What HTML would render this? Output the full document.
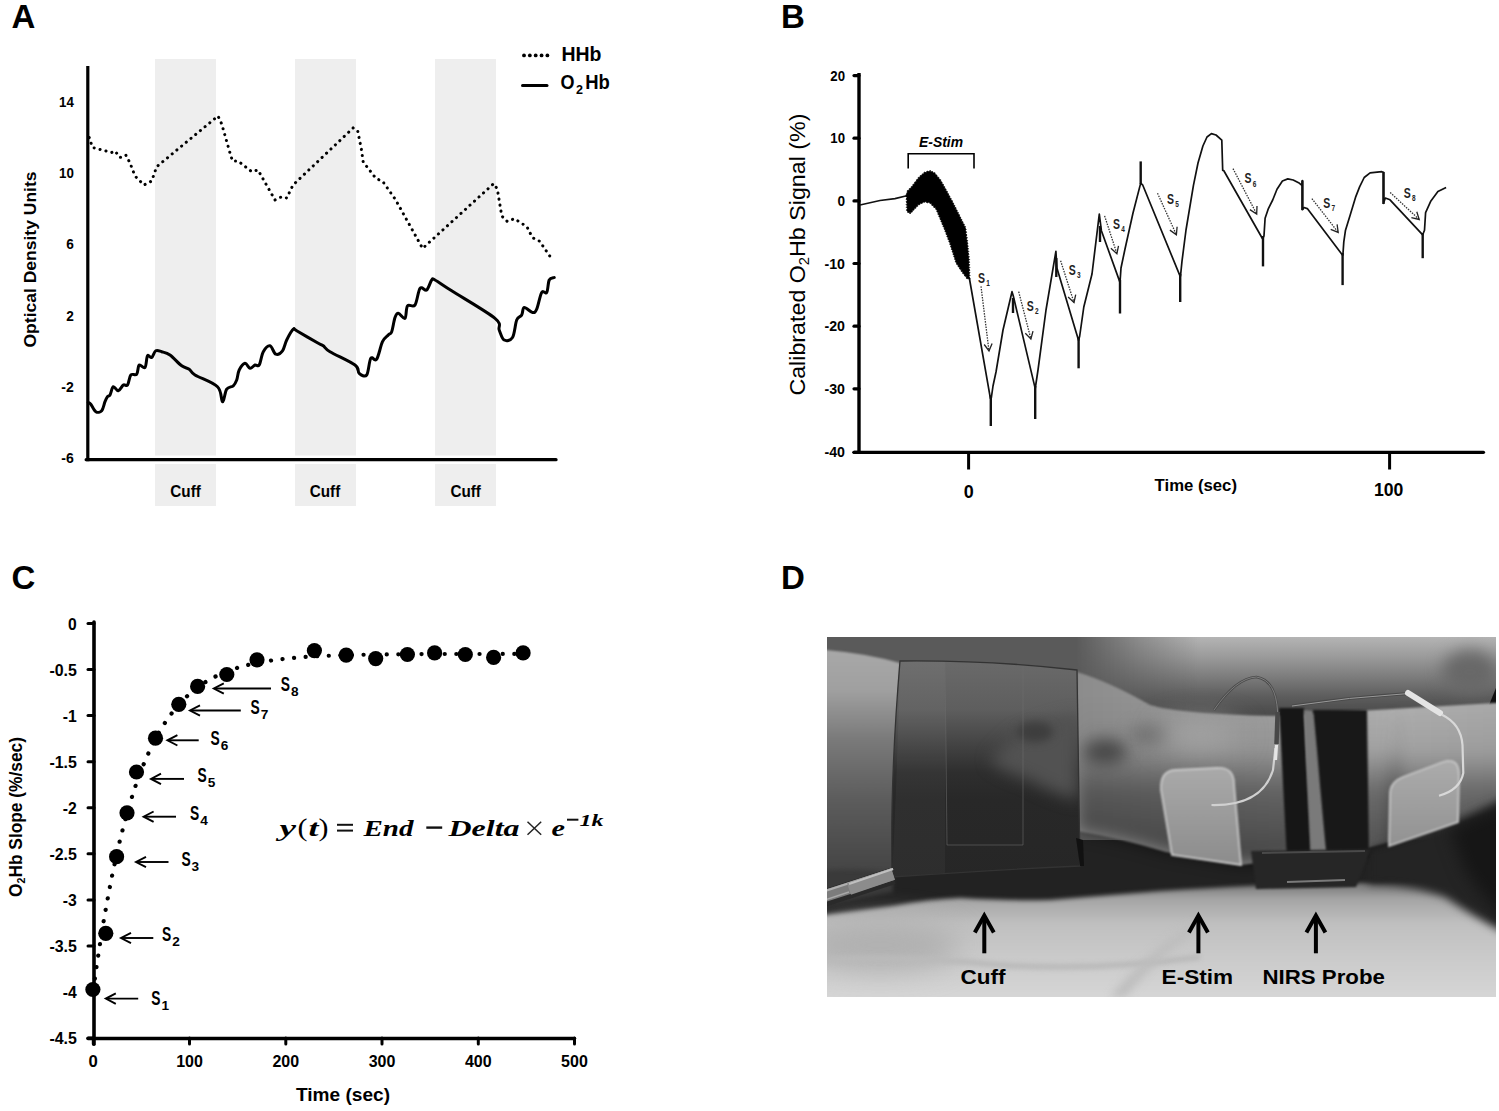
<!DOCTYPE html>
<html><head><meta charset="utf-8">
<style>
html,body{margin:0;padding:0;background:#fff;width:1499px;height:1111px;overflow:hidden}
svg{position:absolute;left:0;top:0;display:block}
text{font-family:"Liberation Sans", sans-serif}
</style></head><body>
<svg width="1499" height="1111" viewBox="0 0 1499 1111">
<rect x="0" y="0" width="1499" height="1111" fill="#fff"/>

<text x="11.5" y="28" font-size="33" font-weight="bold" fill="#000">A</text>
<text x="781" y="28" font-size="33" font-weight="bold" fill="#000">B</text>
<text x="11.5" y="589" font-size="33" font-weight="bold" fill="#000">C</text>
<text x="781" y="589" font-size="33" font-weight="bold" fill="#000">D</text>
<rect x="155" y="59" width="61" height="396.5" fill="#eeeeee"/>
<rect x="155" y="464" width="61" height="42" fill="#eeeeee"/>
<rect x="295" y="59" width="61" height="396.5" fill="#eeeeee"/>
<rect x="295" y="464" width="61" height="42" fill="#eeeeee"/>
<rect x="435" y="59" width="61" height="396.5" fill="#eeeeee"/>
<rect x="435" y="464" width="61" height="42" fill="#eeeeee"/>
<line x1="87.8" y1="66" x2="87.8" y2="461.3" stroke="#000" stroke-width="3.2"/>
<line x1="86.2" y1="459.7" x2="556" y2="459.7" stroke="#000" stroke-width="3.3" stroke-linecap="round"/>
<text x="59.0" y="107.0" font-size="14" font-weight="bold" textLength="14.8" lengthAdjust="spacingAndGlyphs">14</text>
<text x="59.0" y="178.2" font-size="14" font-weight="bold" textLength="14.8" lengthAdjust="spacingAndGlyphs">10</text>
<text x="66.2" y="249.4" font-size="14" font-weight="bold" textLength="7.6" lengthAdjust="spacingAndGlyphs">6</text>
<text x="66.2" y="320.6" font-size="14" font-weight="bold" textLength="7.6" lengthAdjust="spacingAndGlyphs">2</text>
<text x="61.3" y="391.8" font-size="14" font-weight="bold" textLength="12.5" lengthAdjust="spacingAndGlyphs">-2</text>
<text x="61.3" y="462.9" font-size="14" font-weight="bold" textLength="12.5" lengthAdjust="spacingAndGlyphs">-6</text>
<text transform="translate(36,259.5) rotate(-90)" font-size="16" font-weight="bold" text-anchor="middle" textLength="176" lengthAdjust="spacingAndGlyphs">Optical Density Units</text>
<text x="185.6" y="497" font-size="16.5" font-weight="bold" text-anchor="middle" textLength="30.5" lengthAdjust="spacingAndGlyphs">Cuff</text>
<text x="325" y="497" font-size="16.5" font-weight="bold" text-anchor="middle" textLength="30.5" lengthAdjust="spacingAndGlyphs">Cuff</text>
<text x="465.7" y="497" font-size="16.5" font-weight="bold" text-anchor="middle" textLength="30.5" lengthAdjust="spacingAndGlyphs">Cuff</text>
<circle cx="524.00" cy="55.4" r="1.9" fill="#000"/>
<circle cx="529.85" cy="55.4" r="1.9" fill="#000"/>
<circle cx="535.70" cy="55.4" r="1.9" fill="#000"/>
<circle cx="541.55" cy="55.4" r="1.9" fill="#000"/>
<circle cx="547.40" cy="55.4" r="1.9" fill="#000"/>
<line x1="522.5" y1="85.5" x2="547" y2="85.5" stroke="#000" stroke-width="3" stroke-linecap="round"/>
<text x="561.4" y="61.3" font-size="19.5" font-weight="bold" textLength="40" lengthAdjust="spacingAndGlyphs">HHb</text>
<text x="560.6" y="89" font-size="19.5" font-weight="bold" textLength="14" lengthAdjust="spacingAndGlyphs">O</text>
<text x="576" y="94" font-size="12" font-weight="bold" textLength="7" lengthAdjust="spacingAndGlyphs">2</text>
<text x="585.2" y="89" font-size="19.5" font-weight="bold" textLength="24.6" lengthAdjust="spacingAndGlyphs">Hb</text>
<polyline points="89.2,137.5 92.5,147.5 111.7,152.5 115.0,151.0 120.0,157.5 125.8,155.0 130.0,163.0 135.0,176.0 144.0,185.0 151.7,181.0 156.7,166.7 218.0,116.0 221.7,124.0 230.0,153.0 232.5,161.0 238.0,161.0 251.7,171.7 258.0,170.0 275.0,200.0 281.7,196.7 286.7,198.0 293.0,185.0 353.3,127.8 357.8,131.4 361.4,149.4 363.2,162.0 375.8,178.2 383.0,181.8 395.6,199.8 422.6,248.4 493.7,183.6 497.3,189.0 501.8,216.0 507.2,221.4 514.4,218.7 527.0,226.8 532.4,237.6 539.6,241.2 551.3,258.3" fill="none" stroke="#000" stroke-width="3" stroke-linecap="round" stroke-linejoin="round" stroke-dasharray="0.1,6"/>
<path d="M88.3,402.5 C88.7,402.8 89.5,402.7 90.8,404.2 C92.0,405.7 94.0,410.6 95.8,411.7 C97.6,412.8 100.2,412.5 101.7,410.8 C103.2,409.1 104.0,404.1 105.0,401.7 C106.0,399.3 106.7,397.8 107.5,396.7 C108.3,395.6 109.0,396.7 110.0,395.0 C111.0,393.3 111.9,387.4 113.3,386.7 C114.7,386.0 116.6,391.1 118.3,390.8 C120.0,390.5 121.8,386.0 123.3,385.0 C124.8,384.0 126.2,386.7 127.5,385.0 C128.8,383.3 129.3,376.8 130.8,375.0 C132.3,373.2 135.3,375.9 136.7,374.2 C138.1,372.5 137.8,366.1 139.2,365.0 C140.6,363.9 143.6,369.0 145.0,367.5 C146.4,366.0 146.4,357.5 147.5,355.8 C148.6,354.1 150.3,358.3 151.7,357.5 C153.1,356.7 154.1,351.8 155.8,350.8 C157.5,349.8 159.3,351.0 161.7,351.7 C164.1,352.4 166.7,352.6 170.0,355.0 C173.3,357.4 178.5,363.4 181.7,365.8 C184.9,368.2 187.0,367.7 189.2,369.2 C191.4,370.7 190.3,372.1 195.0,375.0 C199.7,377.9 212.9,382.2 217.5,386.7 C222.1,391.1 221.0,401.3 222.5,401.7 C224.0,402.1 224.9,391.8 226.7,389.2 C228.5,386.6 231.6,387.3 233.3,385.8 C235.0,384.3 235.7,382.6 236.7,380.0 C237.7,377.4 237.8,372.8 239.2,370.0 C240.6,367.2 243.2,363.6 245.0,363.3 C246.8,363.0 248.3,368.0 250.0,368.3 C251.7,368.6 253.5,365.6 255.0,365.0 C256.5,364.4 257.8,367.2 259.2,365.0 C260.6,362.8 261.5,354.9 263.3,351.7 C265.1,348.5 267.9,345.4 270.0,345.8 C272.1,346.2 273.7,353.4 275.8,354.2 C277.9,355.0 280.7,353.2 282.5,350.8 C284.3,348.4 284.9,343.6 286.7,340.0 C288.5,336.4 291.6,330.7 293.3,329.2 C295.0,327.7 292.5,328.4 296.7,330.8 C300.9,333.2 313.9,340.8 318.3,343.3 C322.7,345.8 321.4,344.4 323.3,345.8 C325.2,347.2 324.7,348.5 330.0,351.7 C335.3,354.9 350.1,361.4 355.0,365.0 C359.9,368.6 357.2,371.6 359.2,373.3 C361.1,375.0 364.8,377.5 366.7,375.0 C368.6,372.5 369.1,360.9 370.8,358.3 C372.5,355.7 374.8,362.0 376.7,359.2 C378.6,356.4 380.6,345.7 382.5,341.7 C384.4,337.7 386.8,336.7 388.3,335.0 C389.8,333.3 390.6,334.6 391.7,331.7 C392.8,328.8 393.9,320.6 395.0,317.5 C396.1,314.4 396.6,313.2 398.3,313.3 C400.0,313.4 403.5,319.6 405.0,318.3 C406.5,317.1 405.8,308.0 407.5,305.8 C409.2,303.6 412.9,307.9 415.0,305.0 C417.1,302.1 418.1,290.8 420.0,288.3 C421.9,285.8 424.8,291.4 426.7,290.0 C428.6,288.6 430.3,281.7 431.7,280.0 C433.1,278.3 431.7,278.2 435.0,280.0 C438.3,281.8 441.7,284.4 451.7,290.8 C461.7,297.2 487.1,311.8 495.0,318.3 C502.9,324.8 497.7,326.4 499.2,330.0 C500.7,333.6 502.0,338.8 504.2,340.0 C506.4,341.2 510.4,340.8 512.5,337.5 C514.6,334.2 515.2,323.8 516.7,320.0 C518.2,316.2 520.5,317.1 521.7,315.0 C523.0,312.9 522.4,307.9 524.2,307.5 C526.0,307.1 530.4,312.2 532.5,312.5 C534.6,312.8 535.2,312.5 536.7,309.2 C538.2,305.9 540.0,295.3 541.7,292.5 C543.4,289.7 545.5,294.6 546.7,292.5 C548.0,290.4 548.0,282.5 549.2,280.0 C550.5,277.5 553.4,277.9 554.2,277.5" fill="none" stroke="#000" stroke-width="3" stroke-linejoin="round" stroke-linecap="round"/>
<line x1="859" y1="73" x2="859" y2="452" stroke="#000" stroke-width="3.4"/>
<line x1="854" y1="452.3" x2="1483.5" y2="452.3" stroke="#000" stroke-width="3.2" stroke-linecap="round"/>
<line x1="854" y1="75.6" x2="859" y2="75.6" stroke="#000" stroke-width="3.2" stroke-linecap="round"/>
<text x="830.3" y="80.7" font-size="14.5" font-weight="bold" textLength="14.7" lengthAdjust="spacingAndGlyphs">20</text>
<line x1="854" y1="138.2" x2="859" y2="138.2" stroke="#000" stroke-width="3.2" stroke-linecap="round"/>
<text x="830.3" y="143.3" font-size="14.5" font-weight="bold" textLength="14.7" lengthAdjust="spacingAndGlyphs">10</text>
<line x1="854" y1="200.9" x2="859" y2="200.9" stroke="#000" stroke-width="3.2" stroke-linecap="round"/>
<text x="837.4" y="206.0" font-size="14.5" font-weight="bold" textLength="7.6" lengthAdjust="spacingAndGlyphs">0</text>
<line x1="854" y1="263.5" x2="859" y2="263.5" stroke="#000" stroke-width="3.2" stroke-linecap="round"/>
<text x="824.5" y="268.6" font-size="14.5" font-weight="bold" textLength="20.5" lengthAdjust="spacingAndGlyphs">-10</text>
<line x1="854" y1="326.2" x2="859" y2="326.2" stroke="#000" stroke-width="3.2" stroke-linecap="round"/>
<text x="824.5" y="331.3" font-size="14.5" font-weight="bold" textLength="20.5" lengthAdjust="spacingAndGlyphs">-20</text>
<line x1="854" y1="388.8" x2="859" y2="388.8" stroke="#000" stroke-width="3.2" stroke-linecap="round"/>
<text x="824.5" y="393.9" font-size="14.5" font-weight="bold" textLength="20.5" lengthAdjust="spacingAndGlyphs">-30</text>
<line x1="854" y1="452.3" x2="859" y2="452.3" stroke="#000" stroke-width="3.2" stroke-linecap="round"/>
<text x="824.5" y="457.4" font-size="14.5" font-weight="bold" textLength="20.5" lengthAdjust="spacingAndGlyphs">-40</text>
<line x1="968.6" y1="451" x2="968.6" y2="469.5" stroke="#000" stroke-width="3"/>
<line x1="1389.6" y1="451" x2="1389.6" y2="469.5" stroke="#000" stroke-width="3"/>
<text x="968.7" y="497.7" font-size="18" font-weight="bold" text-anchor="middle" textLength="10" lengthAdjust="spacingAndGlyphs">0</text>
<text x="1388.7" y="496.2" font-size="17.5" font-weight="bold" text-anchor="middle" textLength="29.4" lengthAdjust="spacingAndGlyphs">100</text>
<text x="1154.6" y="491" font-size="16.5" font-weight="bold" textLength="82.4" lengthAdjust="spacingAndGlyphs">Time (sec)</text>
<text transform="translate(804.5,254.6) rotate(-90)" font-size="22" text-anchor="middle" textLength="282" lengthAdjust="spacingAndGlyphs">Calibrated O<tspan font-size="14" dy="4">2</tspan><tspan dy="-4">Hb Signal (%)</tspan></text>
<polyline points="908.2,168.5 908.2,153.8 974,153.8 974,168.5" fill="none" stroke="#000" stroke-width="1.6"/>
<text x="919" y="146.5" font-size="14" font-weight="bold" font-style="italic" textLength="44" lengthAdjust="spacingAndGlyphs">E-Stim</text>
<polyline points="860,205 870,202.8 880,200.5 895,198.6 906.7,195.7" fill="none" stroke="#111" stroke-width="1.6"/>
<polygon points="907.3,192.2 907.4,190.5 909.2,190.4 909.3,188.6 911.1,188.5 911.2,186.7 913.0,186.3 912.9,184.4 914.7,184.0 914.7,182.1 916.5,181.6 916.4,179.8 918.2,179.3 918.2,177.4 920.0,177.4 920.2,175.6 922.0,175.6 922.2,173.9 923.9,173.9 924.2,172.0 926.0,172.7 927.1,171.1 928.9,171.8 930.2,170.3 930.9,171.9 932.6,171.5 933.2,173.1 935.0,172.7 935.1,174.6 936.9,175.1 937.0,177.0 938.9,177.4 938.9,179.3 940.8,179.8 940.5,181.5 942.1,182.1 941.8,183.8 943.5,184.4 943.1,186.2 944.8,186.8 944.4,188.5 946.1,189.1 945.7,190.8 947.4,191.4 947.0,193.2 948.6,193.8 948.3,195.5 949.9,196.1 949.5,197.9 951.2,198.5 950.8,200.2 952.5,200.8 952.1,202.6 953.7,203.2 953.3,204.9 954.9,205.5 954.4,207.2 956.1,207.8 955.6,209.5 957.2,210.2 956.8,211.9 958.4,212.5 957.9,214.2 959.6,214.8 959.1,216.5 960.7,217.2 960.3,218.9 961.9,219.5 961.5,221.2 963.1,221.9 962.6,223.6 964.3,224.2 963.8,225.9 965.5,226.6 964.9,228.0 966.2,229.3 965.3,230.8 966.6,232.1 965.6,233.6 967.0,234.9 966.0,236.4 967.3,237.7 966.3,239.2 967.7,240.5 966.7,242.0 968.0,243.2 967.0,244.7 968.3,245.9 967.2,247.4 968.5,248.6 967.5,250.1 968.8,251.4 967.8,252.8 969.0,254.1 968.0,255.5 969.3,256.8 968.3,258.2 969.6,259.5 968.4,260.9 969.6,262.1 968.5,263.5 969.7,264.8 968.6,266.2 969.8,267.5 968.7,268.8 969.9,270.1 968.8,271.5 970.0,272.8 968.8,274.1 970.0,275.4 968.9,276.8 970.1,278.1 969.9,279.4 968.3,278.8 966.4,278.4 966.4,276.5 964.6,276.0 964.5,274.1 962.7,273.6 962.9,271.8 961.1,271.3 961.3,269.5 959.6,269.0 959.8,267.2 958.0,266.6 958.2,264.8 956.5,264.3 956.8,262.7 955.2,261.8 956.0,260.2 954.5,259.3 955.2,257.7 953.7,256.8 954.4,255.2 952.9,254.4 953.6,252.8 952.1,251.9 952.8,250.3 951.3,249.4 952.0,247.8 950.5,246.9 951.3,245.3 949.7,244.4 950.4,242.7 948.8,241.8 949.4,240.2 947.8,239.3 948.4,237.6 946.8,236.7 947.5,235.1 945.9,234.2 946.5,232.5 944.9,231.6 945.5,230.0 944.0,229.1 944.5,227.4 942.9,226.6 943.5,224.9 941.9,224.2 942.5,222.5 940.9,221.7 941.4,220.0 939.9,219.2 940.4,217.5 938.8,216.7 939.4,215.0 937.8,214.3 938.4,212.6 936.8,211.8 937.3,210.1 935.8,209.4 935.7,207.6 933.8,207.4 933.7,205.6 931.9,205.5 931.7,203.6 930.0,203.6 928.8,202.1 927.1,203.0 925.9,201.5 924.4,202.3 922.7,201.9 922.1,203.5 920.4,203.1 919.7,204.7 917.7,204.5 917.7,206.3 915.9,206.4 915.9,208.2 914.1,208.3 914.0,210.1 912.3,210.3 912.2,212.1 910.5,212.2 910.1,214.0 909.5,212.3 907.7,212.5 907.6,211.5 906.4,210.1 907.5,208.7 906.3,207.4 907.4,206.0 906.2,204.6 907.3,203.2 906.1,201.9 907.2,200.5 906.0,199.1 907.1,197.7 905.9,196.4 906.1,195.0" fill="#000" stroke="#000" stroke-width="0.8"/>
<polyline points="969.5,279.0 990.4,398.4 991.3,398.0 993.0,386.0 996.0,372.0 1003.0,330.0 1012.0,291.7 1013.3,296.0 1035.0,387.6 1035.3,388.0 1038.0,370.0 1046.0,310.0 1055.9,251.4 1056.9,268.0 1078.6,340.4 1079.7,336.0 1083.8,307.0 1092.0,274.0 1099.3,214.1 1101.4,230.7 1120.0,282.4 1121.0,268.0 1125.0,249.0 1133.0,213.0 1140.7,183.1 1142.8,185.2 1180.2,276.4 1180.5,276.0 1182.0,261.2 1186.0,230.0 1193.4,185.6 1198.0,163.0 1202.9,146.0 1207.0,137.0 1211.4,133.6 1216.0,135.0 1221.8,140.2 1222.7,170.5 1223.7,170.5 1262.4,238.5 1263.5,237.0 1264.0,235.6 1265.1,218.3 1268.4,208.6 1272.7,200.0 1277.0,189.2 1282.4,181.0 1287.8,178.9 1293.2,180.0 1298.6,182.7 1301.9,185.4 1302.4,180.5 1302.4,209.7 1304.0,207.5 1307.3,208.6 1342.6,255.3 1342.9,255.0 1343.8,241.9 1345.5,230.2 1350.2,215.0 1355.5,197.4 1359.6,186.9 1364.2,177.5 1370.1,172.9 1381.8,171.7 1383.5,172.3 1383.5,203.3 1385.3,198.0 1390.0,199.8 1405.2,216.1 1422.7,234.9 1423.0,234.0 1424.5,230.2 1425.6,212.6 1430.9,200.9 1437.9,191.6 1446.1,187.5" fill="none" stroke="#111" stroke-width="1.7" stroke-linejoin="round"/>
<line x1="990.8" y1="396" x2="990.8" y2="426" stroke="#111" stroke-width="2.4"/>
<line x1="1013" y1="298" x2="1013" y2="313" stroke="#111" stroke-width="2.4"/>
<line x1="1035.2" y1="386" x2="1035.2" y2="419" stroke="#111" stroke-width="2.4"/>
<line x1="1056.3" y1="258" x2="1056.3" y2="277" stroke="#111" stroke-width="2.4"/>
<line x1="1078.6" y1="338" x2="1078.6" y2="368.3" stroke="#111" stroke-width="2.4"/>
<line x1="1100" y1="226" x2="1100" y2="242" stroke="#111" stroke-width="2.4"/>
<line x1="1120" y1="280" x2="1120" y2="313.5" stroke="#111" stroke-width="2.4"/>
<line x1="1140.7" y1="161.4" x2="1140.7" y2="184" stroke="#111" stroke-width="2.4"/>
<line x1="1180.2" y1="274" x2="1180.2" y2="302" stroke="#111" stroke-width="2.4"/>
<line x1="1263" y1="236" x2="1263" y2="266.4" stroke="#111" stroke-width="2.4"/>
<line x1="1302.4" y1="180.5" x2="1302.4" y2="210" stroke="#111" stroke-width="2.4"/>
<line x1="1342.6" y1="253" x2="1342.6" y2="285.1" stroke="#111" stroke-width="2.4"/>
<line x1="1383.5" y1="172" x2="1383.5" y2="204" stroke="#111" stroke-width="2.4"/>
<line x1="1422.7" y1="233" x2="1422.7" y2="258.2" stroke="#111" stroke-width="2.4"/>
<line x1="981" y1="286.3" x2="989" y2="351" stroke="#333" stroke-width="1.3" stroke-dasharray="1.5,1.2"/>
<polyline points="992.1,343.6 989,351 984.2,344.5" fill="none" stroke="#222" stroke-width="1.3"/>
<text x="978" y="282.8" font-size="14" font-weight="bold" fill="#222" textLength="7" lengthAdjust="spacingAndGlyphs">S</text>
<text x="986.2" y="286" font-size="8.5" font-weight="bold" fill="#222" textLength="3.6" lengthAdjust="spacingAndGlyphs">1</text>
<line x1="1018.7" y1="291.7" x2="1030.9" y2="339" stroke="#333" stroke-width="1.3" stroke-dasharray="1.5,1.2"/>
<polyline points="1033.0,331.2 1030.9,339 1025.3,333.2" fill="none" stroke="#222" stroke-width="1.3"/>
<text x="1026.8" y="310.8" font-size="14" font-weight="bold" fill="#222" textLength="7" lengthAdjust="spacingAndGlyphs">S</text>
<text x="1035.0" y="314" font-size="8.5" font-weight="bold" fill="#222" textLength="3.6" lengthAdjust="spacingAndGlyphs">2</text>
<line x1="1060.6" y1="260.7" x2="1074" y2="302.5" stroke="#333" stroke-width="1.3" stroke-dasharray="1.5,1.2"/>
<polyline points="1075.7,294.6 1074,302.5 1068.1,297.1" fill="none" stroke="#222" stroke-width="1.3"/>
<text x="1068.7" y="274.8" font-size="14" font-weight="bold" fill="#222" textLength="7" lengthAdjust="spacingAndGlyphs">S</text>
<text x="1076.9" y="278" font-size="8.5" font-weight="bold" fill="#222" textLength="3.6" lengthAdjust="spacingAndGlyphs">3</text>
<line x1="1104.6" y1="215.9" x2="1116.9" y2="253.7" stroke="#333" stroke-width="1.3" stroke-dasharray="1.5,1.2"/>
<polyline points="1118.5,245.8 1116.9,253.7 1110.9,248.3" fill="none" stroke="#222" stroke-width="1.3"/>
<text x="1113" y="228.8" font-size="14" font-weight="bold" fill="#222" textLength="7" lengthAdjust="spacingAndGlyphs">S</text>
<text x="1121.2" y="232" font-size="8.5" font-weight="bold" fill="#222" textLength="3.6" lengthAdjust="spacingAndGlyphs">4</text>
<line x1="1157.5" y1="193.2" x2="1176.4" y2="234.8" stroke="#333" stroke-width="1.3" stroke-dasharray="1.5,1.2"/>
<polyline points="1177.1,226.8 1176.4,234.8 1169.9,230.1" fill="none" stroke="#222" stroke-width="1.3"/>
<text x="1167" y="204.20000000000002" font-size="14" font-weight="bold" fill="#222" textLength="7" lengthAdjust="spacingAndGlyphs">S</text>
<text x="1175.2" y="207.4" font-size="8.5" font-weight="bold" fill="#222" textLength="3.6" lengthAdjust="spacingAndGlyphs">5</text>
<line x1="1233" y1="168.6" x2="1256.7" y2="214" stroke="#333" stroke-width="1.3" stroke-dasharray="1.5,1.2"/>
<polyline points="1257.0,205.9 1256.7,214 1249.9,209.6" fill="none" stroke="#222" stroke-width="1.3"/>
<text x="1244.5" y="183.4" font-size="14" font-weight="bold" fill="#222" textLength="7" lengthAdjust="spacingAndGlyphs">S</text>
<text x="1252.7" y="186.6" font-size="8.5" font-weight="bold" fill="#222" textLength="3.6" lengthAdjust="spacingAndGlyphs">6</text>
<line x1="1311.9" y1="198.6" x2="1338.2" y2="232.4" stroke="#333" stroke-width="1.3" stroke-dasharray="1.5,1.2"/>
<polyline points="1337.1,224.4 1338.2,232.4 1330.7,229.3" fill="none" stroke="#222" stroke-width="1.3"/>
<text x="1323.3" y="207.8" font-size="14" font-weight="bold" fill="#222" textLength="7" lengthAdjust="spacingAndGlyphs">S</text>
<text x="1331.5" y="211" font-size="8.5" font-weight="bold" fill="#222" textLength="3.6" lengthAdjust="spacingAndGlyphs">7</text>
<line x1="1390.2" y1="192.5" x2="1419.2" y2="219.5" stroke="#333" stroke-width="1.3" stroke-dasharray="1.5,1.2"/>
<polyline points="1416.8,211.8 1419.2,219.5 1411.4,217.7" fill="none" stroke="#222" stroke-width="1.3"/>
<text x="1403.7" y="197.8" font-size="14" font-weight="bold" fill="#222" textLength="7" lengthAdjust="spacingAndGlyphs">S</text>
<text x="1411.9" y="201" font-size="8.5" font-weight="bold" fill="#222" textLength="3.6" lengthAdjust="spacingAndGlyphs">8</text>
<line x1="94" y1="622" x2="94" y2="1044.3" stroke="#000" stroke-width="3.6" stroke-linecap="round"/>
<line x1="88" y1="1038.5" x2="574.5" y2="1038.5" stroke="#000" stroke-width="3.6" stroke-linecap="round"/>
<line x1="88" y1="623.5" x2="94" y2="623.5" stroke="#000" stroke-width="3" stroke-linecap="round"/>
<text x="68.1" y="629.5" font-size="16.5" font-weight="bold" textLength="8.7" lengthAdjust="spacingAndGlyphs">0</text>
<line x1="88" y1="669.6" x2="94" y2="669.6" stroke="#000" stroke-width="3" stroke-linecap="round"/>
<text x="49.4" y="675.6" font-size="16.5" font-weight="bold" textLength="27.4" lengthAdjust="spacingAndGlyphs">-0.5</text>
<line x1="88" y1="715.6" x2="94" y2="715.6" stroke="#000" stroke-width="3" stroke-linecap="round"/>
<text x="62.8" y="721.6" font-size="16.5" font-weight="bold" textLength="14" lengthAdjust="spacingAndGlyphs">-1</text>
<line x1="88" y1="761.7" x2="94" y2="761.7" stroke="#000" stroke-width="3" stroke-linecap="round"/>
<text x="49.4" y="767.7" font-size="16.5" font-weight="bold" textLength="27.4" lengthAdjust="spacingAndGlyphs">-1.5</text>
<line x1="88" y1="807.7" x2="94" y2="807.7" stroke="#000" stroke-width="3" stroke-linecap="round"/>
<text x="62.8" y="813.7" font-size="16.5" font-weight="bold" textLength="14" lengthAdjust="spacingAndGlyphs">-2</text>
<line x1="88" y1="853.8" x2="94" y2="853.8" stroke="#000" stroke-width="3" stroke-linecap="round"/>
<text x="49.4" y="859.8" font-size="16.5" font-weight="bold" textLength="27.4" lengthAdjust="spacingAndGlyphs">-2.5</text>
<line x1="88" y1="899.9" x2="94" y2="899.9" stroke="#000" stroke-width="3" stroke-linecap="round"/>
<text x="62.8" y="905.9" font-size="16.5" font-weight="bold" textLength="14" lengthAdjust="spacingAndGlyphs">-3</text>
<line x1="88" y1="945.9" x2="94" y2="945.9" stroke="#000" stroke-width="3" stroke-linecap="round"/>
<text x="49.4" y="951.9" font-size="16.5" font-weight="bold" textLength="27.4" lengthAdjust="spacingAndGlyphs">-3.5</text>
<line x1="88" y1="992.0" x2="94" y2="992.0" stroke="#000" stroke-width="3" stroke-linecap="round"/>
<text x="62.8" y="998.0" font-size="16.5" font-weight="bold" textLength="14" lengthAdjust="spacingAndGlyphs">-4</text>
<line x1="88" y1="1038.0" x2="94" y2="1038.0" stroke="#000" stroke-width="3" stroke-linecap="round"/>
<text x="49.4" y="1044.0" font-size="16.5" font-weight="bold" textLength="27.4" lengthAdjust="spacingAndGlyphs">-4.5</text>
<line x1="93.3" y1="1038" x2="93.3" y2="1044" stroke="#000" stroke-width="3" stroke-linecap="round"/>
<text x="88.6" y="1067.4" font-size="16.2" font-weight="bold" textLength="9.3" lengthAdjust="spacingAndGlyphs">0</text>
<line x1="189.5" y1="1038" x2="189.5" y2="1044" stroke="#000" stroke-width="3" stroke-linecap="round"/>
<text x="176.2" y="1067.4" font-size="16.2" font-weight="bold" textLength="26.7" lengthAdjust="spacingAndGlyphs">100</text>
<line x1="285.8" y1="1038" x2="285.8" y2="1044" stroke="#000" stroke-width="3" stroke-linecap="round"/>
<text x="272.4" y="1067.4" font-size="16.2" font-weight="bold" textLength="26.7" lengthAdjust="spacingAndGlyphs">200</text>
<line x1="382.0" y1="1038" x2="382.0" y2="1044" stroke="#000" stroke-width="3" stroke-linecap="round"/>
<text x="368.7" y="1067.4" font-size="16.2" font-weight="bold" textLength="26.7" lengthAdjust="spacingAndGlyphs">300</text>
<line x1="478.3" y1="1038" x2="478.3" y2="1044" stroke="#000" stroke-width="3" stroke-linecap="round"/>
<text x="464.9" y="1067.4" font-size="16.2" font-weight="bold" textLength="26.7" lengthAdjust="spacingAndGlyphs">400</text>
<line x1="574.5" y1="1038" x2="574.5" y2="1044" stroke="#000" stroke-width="3" stroke-linecap="round"/>
<text x="561.1" y="1067.4" font-size="16.2" font-weight="bold" textLength="26.7" lengthAdjust="spacingAndGlyphs">500</text>
<text x="343" y="1100.5" font-size="18.5" font-weight="bold" text-anchor="middle" textLength="94" lengthAdjust="spacingAndGlyphs">Time (sec)</text>
<text transform="translate(22,817) rotate(-90)" font-size="18" font-weight="bold" text-anchor="middle" textLength="160" lengthAdjust="spacingAndGlyphs">O<tspan font-size="11" dy="3">2</tspan><tspan dy="-3">Hb Slope (%/sec)</tspan></text>
<polyline points="93.3,990.1 95.2,976.1 97.1,962.7 99.1,949.8 101.0,937.5 102.9,925.7 104.8,914.4 106.8,903.5 108.7,893.1 110.6,883.2 112.5,873.6 114.5,864.5 116.4,855.7 118.3,847.3 120.2,839.2 122.2,831.5 124.1,824.1 126.0,817.0 127.9,810.2 129.9,803.7 131.8,797.5 133.7,791.5 135.6,785.7 137.6,780.3 139.5,775.0 141.4,769.9 143.3,765.1 145.3,760.5 147.2,756.0 149.1,751.8 151.0,747.7 153.0,743.8 154.9,740.1 156.8,736.5 158.7,733.0 160.7,729.7 162.6,726.6 164.5,723.5 166.4,720.6 168.4,717.9 170.3,715.2 172.2,712.6 174.1,710.2 176.1,707.8 178.0,705.6 179.9,703.4 181.8,701.4 183.8,699.4 185.7,697.5 187.6,695.7 189.5,694.0 191.5,692.3 193.4,690.7 195.3,689.2 197.2,687.7 199.2,686.3 201.1,684.9 203.0,683.6 204.9,682.4 206.9,681.2 208.8,680.1 210.7,679.0 212.6,677.9 214.6,676.9 216.5,676.0 218.4,675.1 220.3,674.2 222.3,673.3 224.2,672.5 226.1,671.7 228.0,671.0 230.0,670.3 231.9,669.6 233.8,669.0 235.7,668.3 237.7,667.7 239.6,667.1 241.5,666.6 243.4,666.1 245.4,665.6 247.3,665.1 249.2,664.6 251.1,664.2 253.1,663.7 255.0,663.3 256.9,662.9 258.8,662.6 260.8,662.2 262.7,661.8 264.6,661.5 266.5,661.2 268.5,660.9 270.4,660.6 272.3,660.3 274.2,660.1 276.2,659.8 278.1,659.6 280.0,659.3 281.9,659.1 283.9,658.9 285.8,658.7 287.7,658.5 289.6,658.3 291.6,658.1 293.5,657.9 295.4,657.8 297.3,657.6 299.3,657.4 301.2,657.3 303.1,657.2 305.0,657.0 307.0,656.9 308.9,656.8 310.8,656.6 312.7,656.5 314.7,656.4 316.6,656.3 318.5,656.2 320.4,656.1 322.4,656.0 324.3,655.9 326.2,655.9 328.1,655.8 330.1,655.7 332.0,655.6 333.9,655.5 335.8,655.5 337.7,655.4 339.7,655.3 341.6,655.3 343.5,655.2 345.4,655.2 347.4,655.1 349.3,655.1 351.2,655.0 353.1,655.0 355.1,654.9 357.0,654.9 358.9,654.8 360.8,654.8 362.8,654.8 364.7,654.7 366.6,654.7 368.5,654.7 370.5,654.6 372.4,654.6 374.3,654.6 376.2,654.5 378.2,654.5 380.1,654.5 382.0,654.5 383.9,654.4 385.9,654.4 387.8,654.4 389.7,654.4 391.6,654.4 393.6,654.3 395.5,654.3 397.4,654.3 399.3,654.3 401.3,654.3 403.2,654.3 405.1,654.2 407.0,654.2 409.0,654.2 410.9,654.2 412.8,654.2 414.7,654.2 416.7,654.2 418.6,654.2 420.5,654.1 422.4,654.1 424.4,654.1 426.3,654.1 428.2,654.1 430.1,654.1 432.1,654.1 434.0,654.1 435.9,654.1 437.8,654.1 439.8,654.1 441.7,654.1 443.6,654.0 445.5,654.0 447.5,654.0 449.4,654.0 451.3,654.0 453.2,654.0 455.2,654.0 457.1,654.0 459.0,654.0 460.9,654.0 462.9,654.0 464.8,654.0 466.7,654.0 468.6,654.0 470.6,654.0 472.5,654.0 474.4,654.0 476.3,654.0 478.3,654.0 480.2,654.0 482.1,654.0 484.0,654.0 486.0,654.0 487.9,654.0 489.8,654.0 491.7,653.9 493.7,653.9 495.6,653.9 497.5,653.9 499.4,653.9 501.4,653.9 503.3,653.9 505.2,653.9 507.1,653.9 509.1,653.9 511.0,653.9 512.9,653.9 514.8,653.9 516.8,653.9 518.7,653.9 520.6,653.9 522.5,653.9 524.5,653.9 526.4,653.9 528.3,653.9 530.2,653.9 532.2,653.9 534.1,653.9" fill="none" stroke="#000" stroke-width="4.2" stroke-linecap="round" stroke-dasharray="0.1,11.5"/>
<circle cx="92.9" cy="989.5" r="7.6" fill="#000"/>
<circle cx="105.8" cy="933.3" r="7.6" fill="#000"/>
<circle cx="116.6" cy="856.7" r="7.6" fill="#000"/>
<circle cx="127" cy="812.8" r="7.6" fill="#000"/>
<circle cx="136.5" cy="772" r="7.6" fill="#000"/>
<circle cx="155.5" cy="738.2" r="7.6" fill="#000"/>
<circle cx="178.8" cy="704.3" r="7.6" fill="#000"/>
<circle cx="197.6" cy="686.4" r="7.6" fill="#000"/>
<circle cx="226.8" cy="674.5" r="7.6" fill="#000"/>
<circle cx="257" cy="659.8" r="7.6" fill="#000"/>
<circle cx="314.4" cy="650.6" r="7.6" fill="#000"/>
<circle cx="346.2" cy="655.2" r="7.6" fill="#000"/>
<circle cx="375.7" cy="658.6" r="7.6" fill="#000"/>
<circle cx="407.4" cy="654.5" r="7.6" fill="#000"/>
<circle cx="434.6" cy="652.9" r="7.6" fill="#000"/>
<circle cx="465.3" cy="654.5" r="7.6" fill="#000"/>
<circle cx="493.6" cy="657.4" r="7.6" fill="#000"/>
<circle cx="523.1" cy="652.9" r="7.6" fill="#000"/>
<line x1="106.8" y1="998.6" x2="138.2" y2="998.6" stroke="#000" stroke-width="1.9"/>
<polyline points="115.8,993.4 105.8,998.6 115.8,1003.8000000000001" fill="none" stroke="#000" stroke-width="1.9" stroke-linejoin="miter"/>
<text x="151.2" y="1005.4" font-size="20" font-weight="bold" fill="#000" textLength="9.2" lengthAdjust="spacingAndGlyphs">S</text>
<text x="161.39999999999998" y="1010.1999999999999" font-size="13.5" font-weight="bold" fill="#000" textLength="7.6" lengthAdjust="spacingAndGlyphs">1</text>
<line x1="122" y1="938" x2="153.3" y2="938" stroke="#000" stroke-width="1.9"/>
<polyline points="131,932.8 121,938 131,943.2" fill="none" stroke="#000" stroke-width="1.9" stroke-linejoin="miter"/>
<text x="162" y="941.4" font-size="20" font-weight="bold" fill="#000" textLength="9.2" lengthAdjust="spacingAndGlyphs">S</text>
<text x="172.2" y="946.1999999999999" font-size="13.5" font-weight="bold" fill="#000" textLength="7.6" lengthAdjust="spacingAndGlyphs">2</text>
<line x1="137" y1="862" x2="168.5" y2="862" stroke="#000" stroke-width="1.9"/>
<polyline points="146,856.8 136,862 146,867.2" fill="none" stroke="#000" stroke-width="1.9" stroke-linejoin="miter"/>
<text x="181.4" y="866.1" font-size="20" font-weight="bold" fill="#000" textLength="9.2" lengthAdjust="spacingAndGlyphs">S</text>
<text x="191.6" y="870.9" font-size="13.5" font-weight="bold" fill="#000" textLength="7.6" lengthAdjust="spacingAndGlyphs">3</text>
<line x1="144.6" y1="816.7" x2="176" y2="816.7" stroke="#000" stroke-width="1.9"/>
<polyline points="153.6,811.5 143.6,816.7 153.6,821.9000000000001" fill="none" stroke="#000" stroke-width="1.9" stroke-linejoin="miter"/>
<text x="190" y="819.7" font-size="20" font-weight="bold" fill="#000" textLength="9.2" lengthAdjust="spacingAndGlyphs">S</text>
<text x="200.2" y="824.5" font-size="13.5" font-weight="bold" fill="#000" textLength="7.6" lengthAdjust="spacingAndGlyphs">4</text>
<line x1="152" y1="778.9" x2="184" y2="778.9" stroke="#000" stroke-width="1.9"/>
<polyline points="161,773.6999999999999 151,778.9 161,784.1" fill="none" stroke="#000" stroke-width="1.9" stroke-linejoin="miter"/>
<text x="197.6" y="782.4" font-size="20" font-weight="bold" fill="#000" textLength="9.2" lengthAdjust="spacingAndGlyphs">S</text>
<text x="207.79999999999998" y="787.1999999999999" font-size="13.5" font-weight="bold" fill="#000" textLength="7.6" lengthAdjust="spacingAndGlyphs">5</text>
<line x1="168.4" y1="740.3" x2="198.7" y2="740.3" stroke="#000" stroke-width="1.9"/>
<polyline points="177.4,735.0999999999999 167.4,740.3 177.4,745.5" fill="none" stroke="#000" stroke-width="1.9" stroke-linejoin="miter"/>
<text x="210.6" y="745.4" font-size="20" font-weight="bold" fill="#000" textLength="9.2" lengthAdjust="spacingAndGlyphs">S</text>
<text x="220.79999999999998" y="750.1999999999999" font-size="13.5" font-weight="bold" fill="#000" textLength="7.6" lengthAdjust="spacingAndGlyphs">6</text>
<line x1="191" y1="710.5" x2="240.8" y2="710.5" stroke="#000" stroke-width="1.9"/>
<polyline points="200,705.3 190,710.5 200,715.7" fill="none" stroke="#000" stroke-width="1.9" stroke-linejoin="miter"/>
<text x="250.5" y="714.1" font-size="20" font-weight="bold" fill="#000" textLength="9.2" lengthAdjust="spacingAndGlyphs">S</text>
<text x="260.7" y="718.9" font-size="13.5" font-weight="bold" fill="#000" textLength="7.6" lengthAdjust="spacingAndGlyphs">7</text>
<line x1="214.8" y1="688.5" x2="271" y2="688.5" stroke="#000" stroke-width="1.9"/>
<polyline points="223.8,683.3 213.8,688.5 223.8,693.7" fill="none" stroke="#000" stroke-width="1.9" stroke-linejoin="miter"/>
<text x="280.8" y="691.4" font-size="20" font-weight="bold" fill="#000" textLength="9.2" lengthAdjust="spacingAndGlyphs">S</text>
<text x="291.0" y="696.1999999999999" font-size="13.5" font-weight="bold" fill="#000" textLength="7.6" lengthAdjust="spacingAndGlyphs">8</text>
<text x="279.5" y="836" style="font-family:Liberation Serif,serif" font-size="24" font-weight="bold" font-style="italic" textLength="16.5" lengthAdjust="spacingAndGlyphs">y</text>
<text x="297.5" y="835.5" style="font-family:Liberation Serif,serif" font-size="26" font-weight="normal" font-style="normal" textLength="10.0" lengthAdjust="spacingAndGlyphs">(</text>
<text x="308.5" y="836" style="font-family:Liberation Serif,serif" font-size="24" font-weight="bold" font-style="italic" textLength="10.0" lengthAdjust="spacingAndGlyphs">t</text>
<text x="318.5" y="835.5" style="font-family:Liberation Serif,serif" font-size="26" font-weight="normal" font-style="normal" textLength="10.0" lengthAdjust="spacingAndGlyphs">)</text>
<line x1="337" y1="824.8" x2="353" y2="824.8" stroke="#111" stroke-width="2"/>
<line x1="337" y1="830.6" x2="353" y2="830.6" stroke="#111" stroke-width="2"/>
<text x="363.5" y="836" style="font-family:Liberation Serif,serif" font-size="24" font-weight="bold" font-style="italic" textLength="50.0" lengthAdjust="spacingAndGlyphs">End</text>
<line x1="426.3" y1="827.6" x2="442.2" y2="827.6" stroke="#111" stroke-width="2.4"/>
<text x="448.5" y="835.5" style="font-family:Liberation Serif,serif" font-size="24" font-weight="bold" font-style="italic" textLength="71.0" lengthAdjust="spacingAndGlyphs">Delta</text>
<line x1="527.5" y1="821.8" x2="541.2" y2="834.7" stroke="#222" stroke-width="1.5"/>
<line x1="541.2" y1="821.8" x2="527.5" y2="834.7" stroke="#222" stroke-width="1.5"/>
<text x="551.5" y="835.5" style="font-family:Liberation Serif,serif" font-size="24" font-weight="bold" font-style="italic" textLength="13.5" lengthAdjust="spacingAndGlyphs">e</text>
<line x1="567" y1="819.7" x2="578.4" y2="819.7" stroke="#111" stroke-width="2"/>
<text x="579.5" y="825.7" style="font-family:Liberation Serif,serif" font-size="16" font-weight="bold" font-style="italic" textLength="24.0" lengthAdjust="spacingAndGlyphs">1k</text>
<defs>
<clipPath id="ph"><rect x="827" y="637" width="669" height="360"/></clipPath>
<clipPath id="cuffclip"><path d="M900,661 Q990,660 1077,670 L1080,866 Q990,870 892,877 Q890,780 900,661 Z"/></clipPath>
<filter id="b1" x="-20%" y="-20%" width="140%" height="140%"><feGaussianBlur color-interpolation-filters="sRGB" stdDeviation="0.8"/></filter>
<filter id="b2" filterUnits="userSpaceOnUse" x="800" y="600" width="720" height="420"><feGaussianBlur color-interpolation-filters="sRGB" stdDeviation="2"/></filter>
<filter id="b4" filterUnits="userSpaceOnUse" x="800" y="600" width="720" height="420"><feGaussianBlur color-interpolation-filters="sRGB" stdDeviation="4"/></filter>
<filter id="b8" filterUnits="userSpaceOnUse" x="800" y="600" width="720" height="420"><feGaussianBlur color-interpolation-filters="sRGB" stdDeviation="8"/></filter>
<filter id="b14" filterUnits="userSpaceOnUse" x="800" y="600" width="720" height="420"><feGaussianBlur color-interpolation-filters="sRGB" stdDeviation="14"/></filter>
<linearGradient id="gBgR" x1="0" y1="637" x2="0" y2="712" gradientUnits="userSpaceOnUse">
 <stop offset="0" stop-color="#b4b4b4"/><stop offset="0.25" stop-color="#9c9c9c"/><stop offset="0.55" stop-color="#7a7a7a"/><stop offset="0.8" stop-color="#5c5c5c"/><stop offset="1" stop-color="#4e4e4e"/>
</linearGradient>
<linearGradient id="gSheet" x1="0" y1="885" x2="0" y2="997" gradientUnits="userSpaceOnUse">
 <stop offset="0" stop-color="#7a7a7a"/><stop offset="0.12" stop-color="#a4a4a4"/><stop offset="0.35" stop-color="#c0c0c0"/><stop offset="1" stop-color="#d6d6d6"/>
</linearGradient>
<linearGradient id="gCuff" x1="0" y1="660" x2="0" y2="885" gradientUnits="userSpaceOnUse">
 <stop offset="0" stop-color="#6a6a6a"/><stop offset="0.22" stop-color="#5e5e5e"/><stop offset="0.36" stop-color="#464646"/><stop offset="0.5" stop-color="#2e2e2e"/><stop offset="0.62" stop-color="#282828"/><stop offset="1" stop-color="#262626"/>
</linearGradient>
<linearGradient id="gArmL" x1="0" y1="650" x2="0" y2="885" gradientUnits="userSpaceOnUse">
 <stop offset="0" stop-color="#a8a8a8"/><stop offset="0.17" stop-color="#a0a0a0"/><stop offset="0.38" stop-color="#7a7a7a"/><stop offset="0.64" stop-color="#5c5c5c"/><stop offset="0.85" stop-color="#4c4c4c"/><stop offset="1" stop-color="#404040"/>
</linearGradient>
<linearGradient id="gFore" x1="1077" y1="0" x2="1496" y2="0" gradientUnits="userSpaceOnUse">
 <stop offset="0" stop-color="#8c8c8c"/><stop offset="0.3" stop-color="#999999"/><stop offset="0.55" stop-color="#a2a2a2"/><stop offset="0.75" stop-color="#b0b0b0"/><stop offset="1" stop-color="#aaaaaa"/>
</linearGradient>
<linearGradient id="gForeV" x1="0" y1="700" x2="0" y2="865" gradientUnits="userSpaceOnUse">
 <stop offset="0" stop-color="#000" stop-opacity="0"/><stop offset="0.3" stop-color="#000" stop-opacity="0.06"/><stop offset="0.55" stop-color="#000" stop-opacity="0.38"/><stop offset="0.8" stop-color="#000" stop-opacity="0.48"/><stop offset="1" stop-color="#000" stop-opacity="0.58"/>
</linearGradient>
<linearGradient id="gForeV2" x1="0" y1="700" x2="0" y2="850" gradientUnits="userSpaceOnUse">
 <stop offset="0" stop-color="#000" stop-opacity="0"/><stop offset="0.35" stop-color="#000" stop-opacity="0.08"/><stop offset="0.6" stop-color="#000" stop-opacity="0.38"/><stop offset="1" stop-color="#000" stop-opacity="0.55"/>
</linearGradient>
<linearGradient id="gMaskBg" x1="1075" y1="0" x2="1200" y2="0" gradientUnits="userSpaceOnUse">
 <stop offset="0" stop-color="#fff" stop-opacity="0"/><stop offset="0.5" stop-color="#fff" stop-opacity="0.55"/><stop offset="1" stop-color="#fff" stop-opacity="1"/>
</linearGradient>
<mask id="mBg" maskUnits="userSpaceOnUse" x="800" y="600" width="720" height="130"><rect x="800" y="600" width="720" height="130" fill="url(#gMaskBg)"/></mask>
<linearGradient id="gPad" x1="0" y1="760" x2="0" y2="865" gradientUnits="userSpaceOnUse">
 <stop offset="0" stop-color="#acacac"/><stop offset="1" stop-color="#8c8c8c"/>
</linearGradient>
</defs>
<g clip-path="url(#ph)">
<rect x="827" y="637" width="669" height="360" fill="#5a5a5a"/>
<path d="M1060,600 L1510,600 L1510,716 L1060,716 Z" fill="url(#gBgR)" mask="url(#mBg)"/>
<ellipse cx="1470" cy="672" rx="28" ry="22" fill="#686868" filter="url(#b8)"/>
<path d="M1489,705 L1496,688 L1496,707 Z" fill="#111"/>
<rect x="800" y="840" width="720" height="100" fill="#222"/>
<path d="M800,918 Q850,912 893,906 Q930,899 960,898 Q1010,901 1050,900 Q1100,896 1160,891 Q1210,888 1250,886 Q1330,884 1400,882 L1510,880 L1510,1010 L800,1010 Z" fill="url(#gSheet)" filter="url(#b2)"/>
<ellipse cx="880" cy="945" rx="80" ry="25" fill="#b0b0b0" filter="url(#b14)"/>
<path d="M827,957 Q900,952 1000,962 Q1100,968 1200,954 L1200,960 Q1100,974 1000,968 Q900,958 827,963 Z" fill="#bababa" filter="url(#b2)"/>
<path d="M1110,997 Q1150,950 1190,925 L1200,928 Q1160,955 1125,997 Z" fill="#bdbdbd" filter="url(#b4)"/>
<path d="M800,648 Q860,651 900,663 L893,878 Q860,872 800,880 Z" fill="url(#gArmL)" filter="url(#b1)"/>
<path d="M800,873 Q860,866 893,874 L893,892 L800,910 Z" fill="#3a3a3a" filter="url(#b2)"/>
<path d="M1077,672 Q1110,682 1150,705 Q1180,714 1273,716 L1510,702 L1510,806 Q1440,830 1368,848 L1241,865 L1166,852 Q1120,838 1077,831 Z" fill="url(#gFore)" filter="url(#b1)"/>
<path d="M1077,672 Q1110,682 1150,705 Q1180,714 1273,716 L1400,712 L1400,850 L1241,865 L1166,852 Q1120,838 1077,831 Z" fill="url(#gForeV)" filter="url(#b8)"/>
<path d="M1390,712 L1510,702 L1510,806 Q1440,830 1390,848 Z" fill="url(#gForeV2)" filter="url(#b8)"/>
<ellipse cx="1105" cy="752" rx="22" ry="13" fill="#484848" filter="url(#b8)"/>
<ellipse cx="1150" cy="735" rx="20" ry="9" fill="#6e6e6e" filter="url(#b8)"/>
<ellipse cx="1200" cy="735" rx="40" ry="14" fill="#a4a4a4" filter="url(#b14)"/>
<path d="M1368,848 Q1440,832 1510,795 L1510,935 Q1475,918 1445,897 Q1410,884 1368,884 Z" fill="#242424" filter="url(#b4)"/>
<path d="M1450,830 Q1475,815 1510,805 L1510,925 Q1485,900 1465,870 Z" fill="#161616" filter="url(#b8)"/>
<path d="M900,661 Q990,660 1077,670 L1080,866 Q990,870 892,877 Q890,780 900,661 Z" fill="url(#gCuff)"/>
<path d="M900,662 Q897,780 892,877 L945,873 L945,662 Z" fill="#fff" opacity="0.035"/>
<path d="M1015,735 Q1045,722 1078,715 L1078,800 Q1050,792 1030,780 Q1000,770 990,760 Z" fill="#525252" filter="url(#b8)" clip-path="url(#cuffclip)"/>
<ellipse cx="1035" cy="732" rx="18" ry="10" fill="#3e3e3e" filter="url(#b4)" clip-path="url(#cuffclip)"/>
<path d="M900,661 Q990,660 1077,670 L1080,866 Q990,870 892,877 Q890,780 900,661 Z" fill="none" stroke="#333" stroke-width="1.3"/>
<path d="M945,662 L947,845 L1023,845 L1023,666" fill="none" stroke="#6e6e6e" stroke-width="1" opacity="0.55"/>
<path d="M1076,838 L1080,866 L1084,866 L1083,840 Z" fill="#111"/>
<path d="M800,906 L893,876" stroke="#2a2a2a" stroke-width="17"/>
<path d="M800,904 L893,874" stroke="#7c7c7c" stroke-width="12"/>
<path d="M800,899 L893,869" stroke="#b0b0b0" stroke-width="2.2"/>
<path d="M800,908 L849,892" stroke="#a8a8a8" stroke-width="1.5"/>
<path d="M849,889 L893,874" stroke="#8c8c8c" stroke-width="12"/>
<path d="M849,884 L893,869" stroke="#c0c0c0" stroke-width="2"/>
<path d="M1175,770 L1217,768 Q1234,767 1234,784 L1241,865 L1172,855 L1161,790 Q1160,771 1175,770 Z" fill="url(#gPad)" stroke="#cacaca" stroke-width="1.8" filter="url(#b1)"/>
<path d="M1403,777 L1443,762 Q1459,757 1459,775 L1458,822 L1389,846 L1390,794 Q1390,782 1403,777 Z" fill="url(#gPad)" stroke="#c8c8c8" stroke-width="1.8" filter="url(#b1)"/>
<polygon points="1279,708 1304,708 1311,860 1287,860" fill="#161616" filter="url(#b1)"/>
<polygon points="1304,710 1313,711 1327,858 1311,858" fill="#7a7a7a" filter="url(#b1)"/>
<polygon points="1313,710 1367,710 1369,858 1327,858" fill="#181818" filter="url(#b1)"/>
<polygon points="1251,851 1371,849 1356,887 1256,889" fill="#262626" filter="url(#b1)"/>
<line x1="1287" y1="882" x2="1345" y2="880" stroke="#7a7a7a" stroke-width="2"/>
<line x1="1262" y1="853" x2="1365" y2="851" stroke="#4a4a4a" stroke-width="2"/>
<path d="M1211.5,805 Q1262,806 1273,770 L1275.4,748" fill="none" stroke="#d0d0d0" stroke-width="2.2"/>
<path d="M1276.5,744 L1277.6,712" fill="none" stroke="#484848" stroke-width="4.5"/>
<path d="M1275.5,760 L1276.5,745" fill="none" stroke="#e6e6e6" stroke-width="3.2"/>
<path d="M1277.6,712 Q1276,680 1256.4,677 Q1236,678 1214,710" fill="none" stroke="#4a4a4a" stroke-width="2.4"/>
<path d="M1277.6,712 Q1276,680 1256.4,677 Q1236,678 1214,710" fill="none" stroke="#8a8a8a" stroke-width="0.8"/>
<path d="M1292,706 Q1350,697 1406.6,693.7" fill="none" stroke="#4a4a4a" stroke-width="3"/>
<path d="M1292,706 Q1350,697 1406.6,693.7" fill="none" stroke="#999" stroke-width="1"/>
<path d="M1408,693 L1440,713" fill="none" stroke="#e4e4e4" stroke-width="6" stroke-linecap="round"/>
<path d="M1442,714.7 Q1461,724 1462.5,745 L1463.3,773 Q1460,790 1439,795.7" fill="none" stroke="#d8d8d8" stroke-width="2.2"/>
</g>
<line x1="984.3" y1="916" x2="984.3" y2="953.3" stroke="#000" stroke-width="4"/>
<polyline points="974.8,932.5 984.3,915.5 993.8,932.5" fill="none" stroke="#000" stroke-width="4" stroke-linejoin="miter" stroke-miterlimit="10"/>
<line x1="1198.4" y1="916" x2="1198.4" y2="953.3" stroke="#000" stroke-width="4"/>
<polyline points="1188.9,932.5 1198.4,915.5 1207.9,932.5" fill="none" stroke="#000" stroke-width="4" stroke-linejoin="miter" stroke-miterlimit="10"/>
<line x1="1315.9" y1="916" x2="1315.9" y2="953.3" stroke="#000" stroke-width="4"/>
<polyline points="1306.4,932.5 1315.9,915.5 1325.4,932.5" fill="none" stroke="#000" stroke-width="4" stroke-linejoin="miter" stroke-miterlimit="10"/>
<text x="960.6" y="984.3" font-size="20.5" font-weight="bold" textLength="45" lengthAdjust="spacingAndGlyphs">Cuff</text>
<text x="1161.6" y="984.3" font-size="20.5" font-weight="bold" textLength="71.5" lengthAdjust="spacingAndGlyphs">E-Stim</text>
<text x="1262.4" y="984.3" font-size="20.5" font-weight="bold" textLength="122.5" lengthAdjust="spacingAndGlyphs">NIRS Probe</text>
</svg></body></html>
